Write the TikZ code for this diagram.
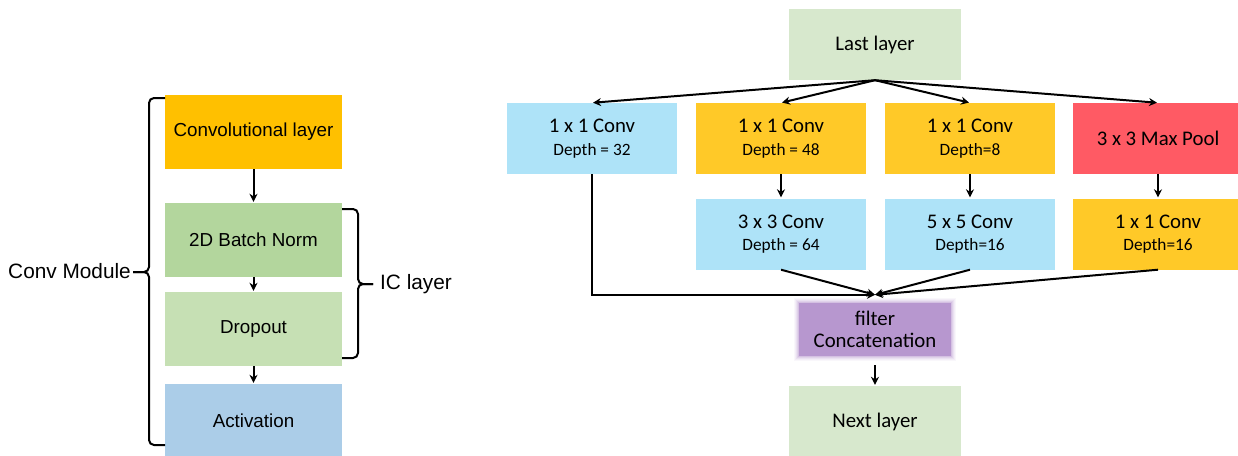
\documentclass[tikz,border=0pt]{standalone}
\usepackage{fontspec}
\setmainfont{Carlito}
\newfontfamily\hv{Liberation Sans}
\usetikzlibrary{arrows.meta,calc,backgrounds}
\definecolor{cconv}{HTML}{FFC000}
\definecolor{cbn}{HTML}{B3D69D}
\definecolor{cdrop}{HTML}{C6E0B4}
\definecolor{cact}{HTML}{ABCDE8}
\definecolor{clayer}{HTML}{D7E8CD}
\definecolor{cblue}{HTML}{AEE3F8}
\definecolor{cyel}{HTML}{FFC928}
\definecolor{cred}{HTML}{FF5A64}
\definecolor{cpur}{HTML}{B797CF}
\begin{document}
\begin{tikzpicture}[x=1pt,y=-1pt,
 lbox/.style={minimum width=177pt, minimum height=74pt, inner sep=0pt, font=\hv\fontsize{18.8}{22}\selectfont},
 rbox/.style={minimum width=170pt, minimum height=71pt, inner sep=0pt, align=center, font=\fontsize{20.8}{22.5}\selectfont},
 arr/.style={-{Stealth[length=8pt,width=8pt]}, line width=2pt},
 bracket/.style={line width=2pt, rounded corners=5pt},
 lab/.style={font=\hv\fontsize{20.8}{24}\selectfont, inner sep=0pt}]
\useasboundingbox (0,0) rectangle (1238,455);
\newcommand{\dpt}[1]{{\fontsize{17.3}{22.5}\selectfont #1}}
% left panel
\node[lbox, fill=cconv] (conv) at (253.5,132) {Convolutional layer};
\node[lbox, fill=cbn] (bn) at (253.5,240) {2D Batch Norm};
\node[lbox, fill=cdrop] (drop) at (253.5,329) {Dropout};
\node[lbox, fill=cact] (act) at (253.5,421) {Activation};
\draw[arr, shorten >=1pt] (conv) -- (bn);
\draw[arr, shorten >=1pt] (bn) -- (drop);
\draw[arr, shorten >=1pt] (drop) -- (act);
\draw[bracket] (165,98) -- (149,98) -- (149,272) -- (133,272);
\draw[bracket] (133,272) -- (149,272) -- (149,445) -- (165,445);
\draw[bracket] (342,209) -- (358,209) -- (358,284) -- (373,284);
\draw[bracket] (373,284) -- (358,284) -- (358,358) -- (342,358);
\node[lab, anchor=east] (cm) at (131,271) {Conv Module};
\node[lab, anchor=west] (ic) at (380,284) {IC layer};
% right panel
\node[rbox, fill=clayer, minimum width=172pt] (last) at (875,44.5) {Last layer};
\node[rbox, fill=cblue] (b1) at (592,138.5) {1 x 1 Conv\\\dpt{Depth = 32}};
\node[rbox, fill=cyel] (b2) at (781,138.5) {1 x 1 Conv\\\dpt{Depth = 48}};
\node[rbox, fill=cyel] (b3) at (970,138.5) {1 x 1 Conv\\\dpt{Depth=8}};
\node[rbox, fill=cred] (b4) at (1158,138.5) {3 x 3 Max Pool};
\node[rbox, fill=cblue] (c2) at (781,234) {3 x 3 Conv\\\dpt{Depth = 64}};
\node[rbox, fill=cblue] (c3) at (970,234) {5 x 5 Conv\\\dpt{Depth=16}};
\node[rbox, fill=cyel] (c4) at (1158,234) {1 x 1 Conv\\\dpt{Depth=16}};
\node[rbox, fill=cpur, minimum width=152pt, minimum height=53pt] (cat) at (875,329.5) {filter\\Concatenation};
\begin{scope}[on background layer]
\foreach \d/\o in {5/0.08,4/0.10,3/0.14,2/0.2,1/0.3}
  \fill[cpur, opacity=\o] ($(cat.north west)+(-\d,-\d)$) rectangle ($(cat.south east)+(\d,\d)$);
\end{scope}
\node[rbox, fill=clayer, minimum width=172pt, minimum height=72pt] (next) at (875,422) {Next layer};
\coordinate (catin) at ($(cat.north)+(0,-8)$);
\draw[arr, shorten >=1pt] (last.south) -- (b1.north);
\draw[arr, shorten >=1pt] (last.south) -- (b2.north);
\draw[arr, shorten >=1pt] (last.south) -- (b3.north);
\draw[arr, shorten >=1pt] (last.south) -- (b4.north);
\draw[arr, shorten >=1pt] (b2) -- (c2);
\draw[arr, shorten >=1pt] (b3) -- (c3);
\draw[arr, shorten >=1pt] (b4) -- (c4);
\draw[arr] (b1.south) |- (catin);
\draw[arr] (c2.south) -- (catin);
\draw[arr] (c3.south) -- (catin);
\draw[arr] (c4.south) -- (catin);
\draw[arr, shorten <=9pt, shorten >=1pt] (cat) -- (next);
\end{tikzpicture}
\end{document}
